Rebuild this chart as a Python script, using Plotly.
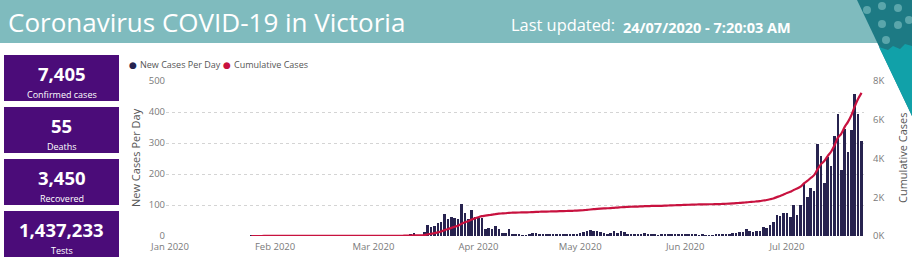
import plotly.graph_objects as go
import pandas as pd
import numpy as np

# ---------------- data ----------------
start_date = "2020-01-25"
end_date = "2020-07-23"

cases_jan = [1, 0, 0, 0, 1, 1, 0]  # Jan 25 - Jan 31
cases_feb = [1, 0, 0, 0, 0, 0, 0, 0, 0, 0, 0, 0, 0, 0, 0, 0, 0, 0, 0, 0,
             0, 0, 0, 0, 0, 0, 0, 0, 0]
cases_mar = [0, 3, 1, 0, 0, 2, 1, 0, 1, 3, 3, 6, 11, 1, 1, 14, 35, 30, 31, 41,
             44, 72, 54, 62, 59, 54, 104, 75, 54, 84, 62]
cases_apr = [59, 57, 22, 26, 24, 31, 22, 11, 11, 22, 5, 7, 5, 3, 3, 5, 11, 9, 6, 5,
             4, 5, 6, 4, 5, 6, 5, 4, 7, 8]
cases_may = [10, 12, 17, 19, 16, 15, 13, 11, 8, 10, 15, 10, 17, 12, 7, 7, 6, 6, 7, 9,
             6, 7, 4, 2, 4, 7, 7, 7, 5, 6, 7]
cases_jun = [8, 7, 7, 5, 3, 5, 3, 1, 1, 5, 6, 6, 8, 8, 10, 11, 14, 12, 21, 15,
             12, 17, 17, 30, 26, 37, 45, 67, 63, 74]
cases_jul = [75, 62, 99, 68, 99, 170, 125, 154, 145, 298, 259, 172, 254, 226, 322,
             392, 213, 345, 270, 343, 457, 392, 306]  # Jul 1 - Jul 23

kpi_values = ["7,405", "55", "3,450", "1,437,233"]
kpi_labels = ["Confirmed cases", "Deaths", "Recovered", "Tests"]

left_tickvals = [0, 100, 200, 300, 400, 500]
right_tickvals = [0, 2000, 4000, 6000, 8000]
right_ticktext = ["0K", "2K", "4K", "6K", "8K"]

title_text = "Coronavirus COVID-19 in Victoria"
updated_label = "Last updated:"
updated_value = "24/07/2020 - 7:20:03 AM"
series_names = ["New Cases Per Day", "Cumulative Cases"]

# ---------------- derived series ----------------
dates = pd.date_range(start_date, end_date, freq="D")
daily = np.array(cases_jan + cases_feb + cases_mar + cases_apr + cases_may
                 + cases_jun + cases_jul)
assert len(daily) == len(dates)
cumulative = np.cumsum(daily)

# ---------------- styling / geometry ----------------
W, H = 912, 258
L, R, T, B = 166, 864, 81, 236
BAR = "#27234f"
RED = "#c8123f"
HEADER = "#7fbbbe"
DARK_TEAL = "#1d7a84"
BRIGHT_TEAL = "#11a1a9"
DOT = "#5aa6ab"
PURPLE = "#4b0c79"
FONT = "Open Sans"
TICK = "#7a7a7a"


def fx(x):
    return (x - L) / (R - L)


def fy(y):
    return (B - y) / (B - T)


fig = go.Figure()
fig.add_trace(go.Bar(
    x=dates, y=daily, name=series_names[0],
    marker=dict(color=BAR, line=dict(width=0)),
    width=0.76 * 86400000,
))
fig.add_trace(go.Scatter(
    x=dates, y=cumulative, name=series_names[1], yaxis="y2",
    mode="lines", line=dict(color=RED, width=2.2, shape="spline"),
))

shapes = []
annotations = []

# header band
shapes.append(dict(type="rect", xref="paper", yref="paper",
                   x0=fx(0), x1=fx(W), y0=fy(0), y1=fy(43),
                   fillcolor=HEADER, line=dict(width=0), layer="above"))
# decorative corner
shapes.append(dict(type="path", xref="paper", yref="paper",
                   path=f"M {fx(857)},{fy(0)} L {fx(W)},{fy(0)} L {fx(W)},{fy(116)} Z",
                   fillcolor=DARK_TEAL, line=dict(width=0), layer="above"))
shapes.append(dict(type="path", xref="paper", yref="paper",
                   path=(f"M {fx(879)},{fy(47)} L {fx(888)},{fy(50)} L {fx(893)},{fy(46)} "
                         f"L {fx(900)},{fy(49)} L {fx(905)},{fy(44)} L {fx(W)},{fy(46)} "
                         f"L {fx(W)},{fy(116)} Z"),
                   fillcolor=BRIGHT_TEAL, line=dict(width=0), layer="above"))
for cx, cy in [(867, 10), (882, 6), (898, 8), (882, 24), (898, 25), (886, 40), (909, 20)]:
    shapes.append(dict(type="circle", xref="paper", yref="paper",
                       x0=fx(cx - 4), x1=fx(cx + 4), y0=fy(cy - 4), y1=fy(cy + 4),
                       fillcolor=DOT, line=dict(width=0), layer="above"))

# header texts
annotations.append(dict(xref="paper", yref="paper", x=fx(6), y=fy(22),
                        xanchor="left", yanchor="middle", showarrow=False,
                        text=title_text,
                        font=dict(family=FONT, size=26, color="white")))
annotations.append(dict(xref="paper", yref="paper", x=fx(509), y=fy(24),
                        xanchor="left", yanchor="middle", showarrow=False,
                        text=updated_label,
                        font=dict(family=FONT, size=16.4, color="white")))
annotations.append(dict(xref="paper", yref="paper", x=fx(621), y=fy(27),
                        xanchor="left", yanchor="middle", showarrow=False,
                        text=updated_value,
                        font=dict(family=FONT, size=14.5, color="white", weight="bold")))

# KPI cards
card_tops = [55, 107, 159, 211]
for top, val, lab in zip(card_tops, kpi_values, kpi_labels):
    shapes.append(dict(type="rect", xref="paper", yref="paper",
                       x0=fx(4), x1=fx(119), y0=fy(top), y1=fy(top + 46),
                       fillcolor=PURPLE, line=dict(width=0), layer="above"))
    annotations.append(dict(xref="paper", yref="paper", x=fx(61.5), y=fy(top + 18),
                            xanchor="center", yanchor="middle", showarrow=False,
                            text=val,
                            font=dict(family=FONT, size=18.5, color="white", weight="bold")))
    annotations.append(dict(xref="paper", yref="paper", x=fx(61.5), y=fy(top + 39),
                            xanchor="center", yanchor="middle", showarrow=False,
                            text=lab,
                            font=dict(family=FONT, size=9, color="white")))

# legend (two entries, circle markers)
legend_items = [(133, 138, BAR, series_names[0]), (227, 232, RED, series_names[1])]
for dot_x, text_x, col, name in legend_items:
    annotations.append(dict(xref="paper", yref="paper", x=fx(dot_x), y=fy(64.5),
                            xanchor="center", yanchor="middle", showarrow=False,
                            text="●", font=dict(family="DejaVu Sans", size=9, color=col)))
    annotations.append(dict(xref="paper", yref="paper", x=fx(text_x), y=fy(64),
                            xanchor="left", yanchor="middle", showarrow=False,
                            text=name, font=dict(family=FONT, size=9, color="#555555")))
# axis titles
annotations.append(dict(xref="paper", yref="paper", x=fx(135), y=fy(158),
                        xanchor="center", yanchor="middle", showarrow=False,
                        textangle=-90, text=series_names[0],
                        font=dict(family=FONT, size=11, color="#555555")))
annotations.append(dict(xref="paper", yref="paper", x=fx(902), y=fy(158),
                        xanchor="center", yanchor="middle", showarrow=False,
                        textangle=-90, text=series_names[1],
                        font=dict(family=FONT, size=11, color="#555555")))

fig.update_layout(
    width=W, height=H,
    margin=dict(l=L, r=W - R, t=T, b=H - B, pad=0, autoexpand=False),
    paper_bgcolor="white", plot_bgcolor="white",
    showlegend=False, bargap=0,
    font=dict(family=FONT, size=10, color=TICK),
    xaxis=dict(type="date", automargin=False,
               range=["2019-12-30 19:40", "2020-07-23 17:20"],
               tick0="2020-01-01", dtick="M1", tickformat="%b %Y",
               showgrid=False, zeroline=False, showline=False, ticks="",
               ticklabelstandoff=3,
               tickfont=dict(family=FONT, size=9.5, color=TICK)),
    yaxis=dict(range=[0, 500], tickvals=left_tickvals, automargin=False,
               showgrid=True, gridcolor="#d4d4d4", griddash="dot", gridwidth=1,
               zeroline=False, showline=False, ticks="",
               tickfont=dict(family=FONT, size=9.5, color=TICK)),
    yaxis2=dict(range=[0, 8000], overlaying="y", side="right", automargin=False,
                tickvals=right_tickvals, ticktext=right_ticktext,
                showgrid=False, zeroline=False, showline=False, ticks="",
                ticklabelstandoff=8,
                tickfont=dict(family=FONT, size=9.5, color=TICK)),
    shapes=shapes, annotations=annotations,
)

fig.write_html("out.html")
